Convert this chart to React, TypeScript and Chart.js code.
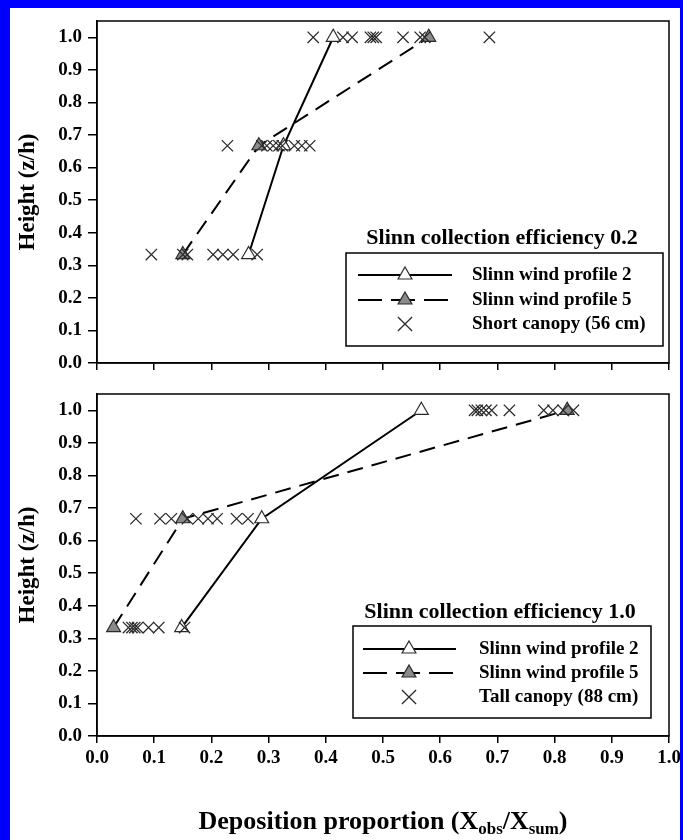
import React, { useEffect, useRef } from 'react';
import { Chart, registerables } from 'chart.js';

Chart.register(...registerables);

// ---------- data ----------
const HEIGHTS = [0.333, 0.667, 1.0];
const Y_TICKS = [0, 0.1, 0.2, 0.3, 0.4, 0.5, 0.6, 0.7, 0.8, 0.9, 1.0];
const X_TICKS = [0, 0.1, 0.2, 0.3, 0.4, 0.5, 0.6, 0.7, 0.8, 0.9, 1.0];

// Panel 1: Slinn collection efficiency 0.2, short canopy
const TOP_PROFILE2 = [0.265, 0.326, 0.413];
const TOP_PROFILE5 = [0.15, 0.283, 0.58];
const TOP_SHORT_H033 = [0.095, 0.15, 0.158, 0.203, 0.22, 0.238, 0.28];
const TOP_SHORT_H067 = [0.228, 0.288, 0.297, 0.308, 0.318, 0.324, 0.345, 0.358, 0.372];
const TOP_SHORT_H100 = [0.378, 0.43, 0.446, 0.478, 0.483, 0.488, 0.535, 0.565, 0.573, 0.686];

// Panel 2: Slinn collection efficiency 1.0, tall canopy
const BOT_PROFILE2 = [0.148, 0.288, 0.567];
const BOT_PROFILE5 = [0.029, 0.15, 0.822];
const BOT_TALL_H033 = [0.055, 0.061, 0.066, 0.071, 0.09, 0.108, 0.153];
const BOT_TALL_H067 = [0.068, 0.11, 0.13, 0.158, 0.177, 0.194, 0.21, 0.244, 0.264];
const BOT_TALL_H100 = [0.66, 0.665, 0.672, 0.68, 0.69, 0.721, 0.781, 0.797, 0.815, 0.833];

const TOP_TITLE = 'Slinn collection efficiency 0.2';
const BOT_TITLE = 'Slinn collection efficiency 1.0';
const LABEL_P2 = 'Slinn wind profile 2';
const LABEL_P5 = 'Slinn wind profile 5';
const TOP_CANOPY_LABEL = 'Short canopy (56 cm)';
const BOT_CANOPY_LABEL = 'Tall canopy (88 cm)';
const Y_TITLE = 'Height (z/h)';

// ---------- style ----------
const FONT = '"Liberation Serif", "Times New Roman", serif';
const TRI_FILL_OPEN = '#ffffff';
const TRI_FILL_GREY = '#8a8a8a';
const MARK_STROKE = '#2a2a2a';

const profilePts = (xs: number[]) => xs.map((x, i) => ({ x, y: HEIGHTS[i] }));
const rowPts = (xs: number[], y: number) => xs.map((x) => ({ x, y }));

function drawTriangle(ctx: CanvasRenderingContext2D, x: number, y: number, r: number, fill: string) {
  ctx.beginPath();
  for (let i = 0; i < 3; i++) {
    const a = (i * 2 * Math.PI) / 3;
    const px = x + Math.sin(a) * r;
    const py = y - Math.cos(a) * r;
    if (i === 0) ctx.moveTo(px, py);
    else ctx.lineTo(px, py);
  }
  ctx.closePath();
  ctx.fillStyle = fill;
  ctx.fill();
  ctx.lineWidth = 1.2;
  ctx.strokeStyle = MARK_STROKE;
  ctx.setLineDash([]);
  ctx.stroke();
}

function drawCross(ctx: CanvasRenderingContext2D, x: number, y: number, r: number) {
  const d = r * Math.SQRT1_2;
  ctx.beginPath();
  ctx.moveTo(x - d, y - d);
  ctx.lineTo(x + d, y + d);
  ctx.moveTo(x - d, y + d);
  ctx.lineTo(x + d, y - d);
  ctx.lineWidth = 1.3;
  ctx.strokeStyle = MARK_STROKE;
  ctx.setLineDash([]);
  ctx.stroke();
}

type LegendGeom = {
  titleX: number; titleY: number;
  x0: number; y0: number; x1: number; y1: number;
  rows: number[]; lx0: number; lx1: number; mx: number; tx: number;
};

type Panel = {
  p2: number[]; p5: number[]; rows: number[][];
  title: string; canopyLabel: string;
  showXLabels: boolean; yMax: number; padTop: number; xAxisHeight: number;
  legend: LegendGeom;
};

const TOP_PANEL: Panel = {
  p2: TOP_PROFILE2, p5: TOP_PROFILE5,
  rows: [TOP_SHORT_H033, TOP_SHORT_H067, TOP_SHORT_H100],
  title: TOP_TITLE, canopyLabel: TOP_CANOPY_LABEL,
  showXLabels: false, yMax: 1.05, padTop: 21, xAxisHeight: 13,
  legend: { titleX: 502, titleY: 238, x0: 346, y0: 253, x1: 663, y1: 346, rows: [275, 300, 324], lx0: 358, lx1: 452, mx: 405, tx: 472 },
};

const BOT_OFF = 376;
const BOT_PANEL: Panel = {
  p2: BOT_PROFILE2, p5: BOT_PROFILE5,
  rows: [BOT_TALL_H033, BOT_TALL_H067, BOT_TALL_H100],
  title: BOT_TITLE, canopyLabel: BOT_CANOPY_LABEL,
  showXLabels: true, yMax: 1.05, padTop: 394 - BOT_OFF, xAxisHeight: 104,
  legend: {
    titleX: 500, titleY: 612 - BOT_OFF, x0: 353, y0: 626 - BOT_OFF, x1: 651, y1: 718 - BOT_OFF,
    rows: [649 - BOT_OFF, 673 - BOT_OFF, 697 - BOT_OFF], lx0: 363, lx1: 456, mx: 409, tx: 479,
  },
};

function makeConfig(p: Panel): any {
  const canopy = p.rows.flatMap((xs, i) => rowPts(xs, HEIGHTS[i]));
  const tickFont = { family: FONT, size: 19, weight: 'bold' as const };

  const framePlugin = {
    id: 'frameAndLegend',
    afterDraw(chart: any) {
      const ctx: CanvasRenderingContext2D = chart.ctx;
      const ca = chart.chartArea;
      ctx.save();
      ctx.lineWidth = 1.5;
      ctx.strokeStyle = '#000';
      ctx.setLineDash([]);
      ctx.strokeRect(ca.left, ca.top, ca.right - ca.left, ca.bottom - ca.top);

      const L = p.legend;
      ctx.fillStyle = '#000';
      ctx.font = `bold 22px ${FONT}`;
      ctx.textAlign = 'center';
      ctx.textBaseline = 'middle';
      ctx.fillText(p.title, L.titleX, L.titleY);

      ctx.fillStyle = '#fff';
      ctx.fillRect(L.x0, L.y0, L.x1 - L.x0, L.y1 - L.y0);
      ctx.lineWidth = 1.5;
      ctx.strokeStyle = '#000';
      ctx.strokeRect(L.x0, L.y0, L.x1 - L.x0, L.y1 - L.y0);

      // row 1: solid
      ctx.beginPath();
      ctx.moveTo(L.lx0, L.rows[0]);
      ctx.lineTo(L.lx1, L.rows[0]);
      ctx.lineWidth = 2;
      ctx.strokeStyle = '#000';
      ctx.stroke();
      drawTriangle(ctx, L.mx, L.rows[0], 8, TRI_FILL_OPEN);

      // row 2: dashed
      ctx.beginPath();
      ctx.setLineDash([24, 9]);
      ctx.moveTo(L.lx0, L.rows[1]);
      ctx.lineTo(L.lx1, L.rows[1]);
      ctx.lineWidth = 2;
      ctx.strokeStyle = '#000';
      ctx.stroke();
      ctx.setLineDash([]);
      drawTriangle(ctx, L.mx, L.rows[1], 8, TRI_FILL_GREY);

      // row 3: cross
      drawCross(ctx, L.mx, L.rows[2], 10);

      ctx.fillStyle = '#000';
      ctx.font = `bold 19px ${FONT}`;
      ctx.textAlign = 'left';
      ctx.textBaseline = 'middle';
      ctx.fillText(LABEL_P2, L.tx, L.rows[0]);
      ctx.fillText(LABEL_P5, L.tx, L.rows[1]);
      ctx.fillText(p.canopyLabel, L.tx, L.rows[2]);
      ctx.restore();
    },
  };

  return {
    type: 'scatter',
    data: {
      datasets: [
        {
          label: p.canopyLabel,
          data: canopy,
          showLine: false,
          pointStyle: 'crossRot',
          pointRadius: 8,
          pointBorderColor: MARK_STROKE,
          pointBorderWidth: 1.3,
          order: 0,
        },
        {
          label: LABEL_P2,
          data: profilePts(p.p2),
          showLine: true,
          borderColor: '#000',
          borderWidth: 2,
          pointStyle: 'triangle',
          pointRadius: 8,
          pointBackgroundColor: TRI_FILL_OPEN,
          pointBorderColor: MARK_STROKE,
          pointBorderWidth: 1.2,
          order: 2,
        },
        {
          label: LABEL_P5,
          data: profilePts(p.p5),
          showLine: true,
          borderColor: '#000',
          borderWidth: 2,
          borderDash: [16, 9],
          pointStyle: 'triangle',
          pointRadius: 8,
          pointBackgroundColor: TRI_FILL_GREY,
          pointBorderColor: MARK_STROKE,
          pointBorderWidth: 1.2,
          order: 1,
        },
      ],
    },
    options: {
      animation: false,
      responsive: false,
      layout: { padding: { left: 0, right: 14, top: p.padTop, bottom: 0 } },
      plugins: { legend: { display: false }, tooltip: { enabled: false } },
      scales: {
        x: {
          type: 'linear',
          min: 0,
          max: 1,
          afterBuildTicks: (s: any) => { s.ticks = X_TICKS.map((v) => ({ value: v })); },
          afterFit: (s: any) => { s.height = p.xAxisHeight; s.paddingLeft = 0; s.paddingRight = 0; },
          grid: { drawOnChartArea: false, drawTicks: true, tickLength: 7, color: '#000', lineWidth: 1.5 },
          border: { display: true, color: '#000', width: 1.5 },
          ticks: {
            display: p.showXLabels,
            padding: 4,
            color: '#000',
            font: tickFont,
            maxRotation: 0,
            autoSkip: false,
            callback: (v: any) => Number(v).toFixed(1),
          },
        },
        y: {
          type: 'linear',
          min: 0,
          max: p.yMax,
          afterBuildTicks: (s: any) => { s.ticks = Y_TICKS.map((v) => ({ value: v })); },
          afterFit: (s: any) => { s.width = 97; s.paddingTop = 0; s.paddingBottom = 0; },
          grid: { drawOnChartArea: false, drawTicks: true, tickLength: 9, color: '#000', lineWidth: 1.5 },
          border: { display: true, color: '#000', width: 1.5 },
          title: {
            display: true,
            text: Y_TITLE,
            color: '#000',
            font: { family: FONT, size: 23, weight: 'bold' },
            padding: { top: 14, bottom: 0 },
          },
          ticks: {
            padding: 6,
            color: '#000',
            font: tickFont,
            autoSkip: false,
            callback: (v: any) => Number(v).toFixed(1),
          },
        },
      },
    },
    plugins: [framePlugin],
  };
}

export default function App() {
  const topRef = useRef<HTMLCanvasElement>(null);
  const botRef = useRef<HTMLCanvasElement>(null);

  useEffect(() => {
    const c1 = new Chart(topRef.current as HTMLCanvasElement, makeConfig(TOP_PANEL));
    const c2 = new Chart(botRef.current as HTMLCanvasElement, makeConfig(BOT_PANEL));
    return () => {
      c1.destroy();
      c2.destroy();
    };
  }, []);

  return (
    <div style={{ position: 'absolute', left: 0, top: 0, width: 683, height: 840, background: '#fff', overflow: 'hidden' }}>
      <canvas ref={topRef} width={683} height={BOT_OFF} style={{ position: 'absolute', left: 0, top: 0 }} />
      <canvas ref={botRef} width={683} height={840 - BOT_OFF} style={{ position: 'absolute', left: 0, top: BOT_OFF }} />
      <div
        style={{
          position: 'absolute', left: 0, top: 806, width: 766, textAlign: 'center',
          fontFamily: FONT, fontWeight: 'bold', fontSize: 26, lineHeight: '30px', color: '#000',
        }}
      >
        Deposition proportion (X
        <sub style={{ fontSize: '0.65em', verticalAlign: '-0.3em', lineHeight: 0 }}>obs</sub>
        /X
        <sub style={{ fontSize: '0.65em', verticalAlign: '-0.3em', lineHeight: 0 }}>sum</sub>)
      </div>
      <div style={{ position: 'absolute', left: 0, top: 0, width: 10, height: 840, background: '#0000ff' }} />
      <div style={{ position: 'absolute', left: 0, top: 0, width: 683, height: 8, background: '#0000ff' }} />
      <div style={{ position: 'absolute', left: 680, top: 0, width: 3, height: 840, background: '#0000ff' }} />
    </div>
  );
}
